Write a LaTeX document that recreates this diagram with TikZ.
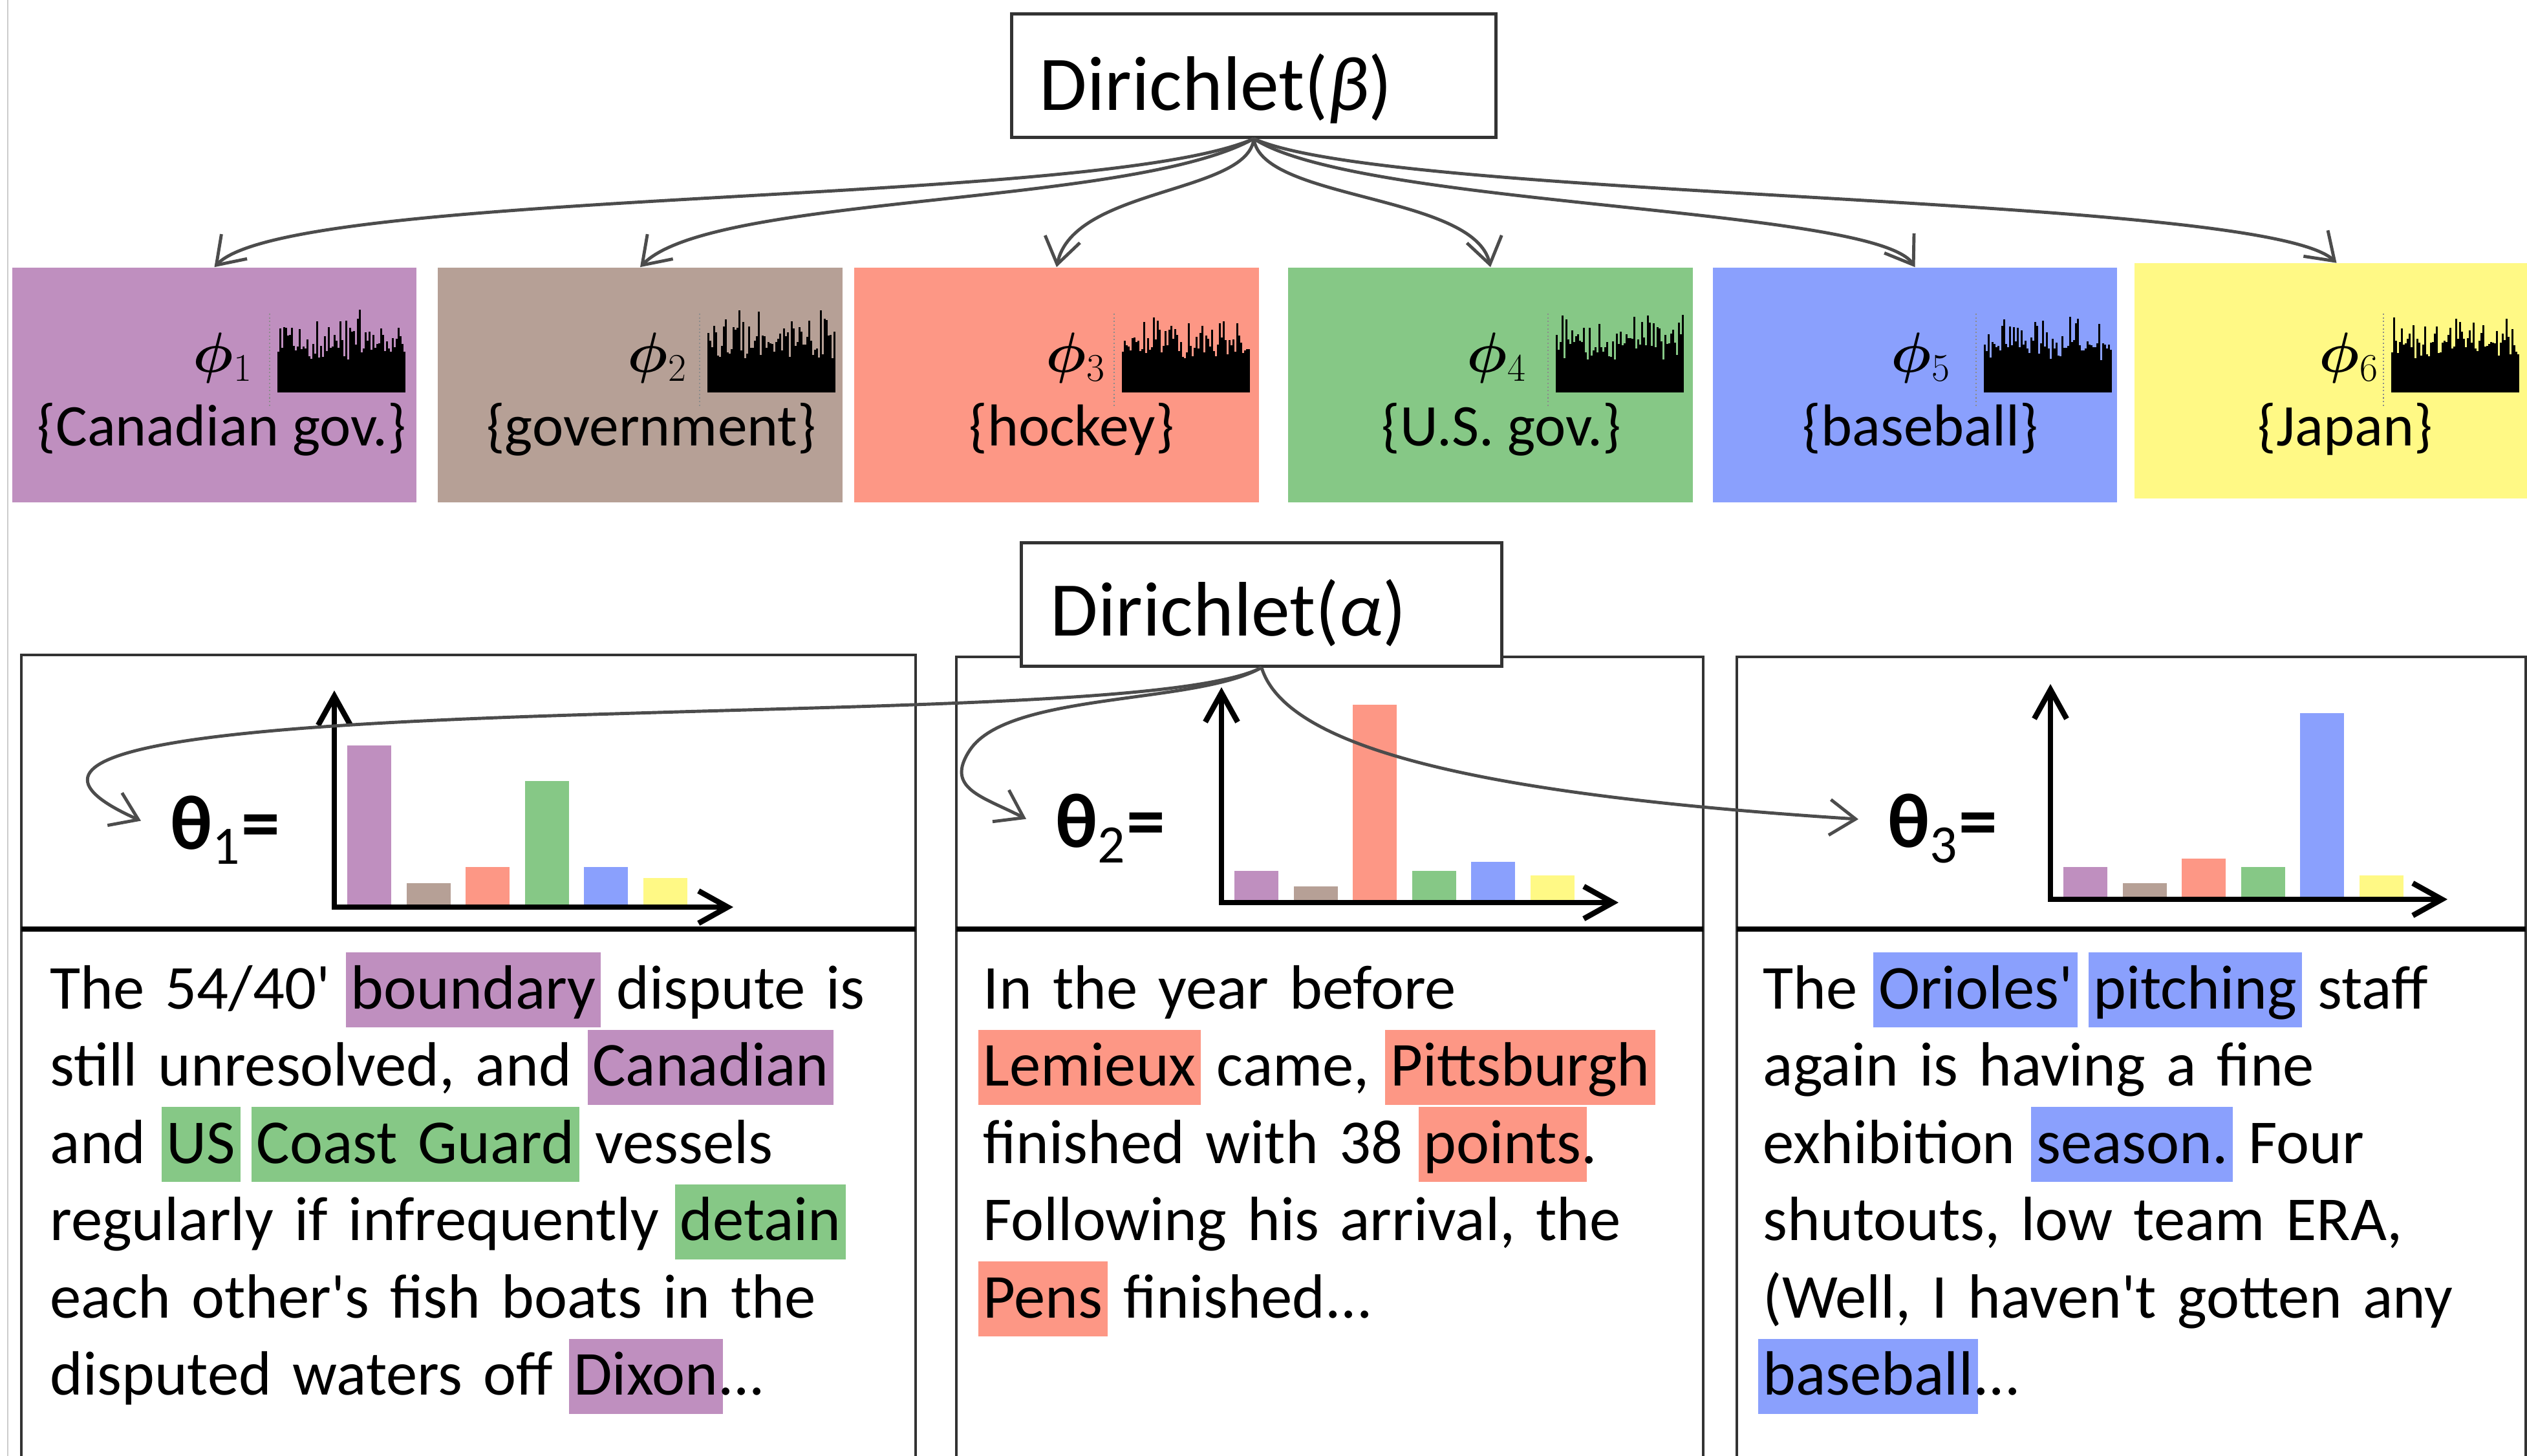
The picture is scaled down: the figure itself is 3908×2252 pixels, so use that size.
\documentclass[tikz,border=0pt]{standalone}
\usepackage{fontspec}
\setmainfont{Carlito}
\usepackage{bm}
\usetikzlibrary{arrows.meta,positioning}

\definecolor{tpurple}{RGB}{191,143,191}
\definecolor{tbrown}{RGB}{182,160,150}
\definecolor{tsalmon}{RGB}{253,151,133}
\definecolor{tgreen}{RGB}{134,200,134}
\definecolor{tblue}{RGB}{138,160,253}
\definecolor{tyellow}{RGB}{255,249,133}

% highlighted word, width neutral
\newcommand{\hlw}[2]{\hspace{-0.08em}{\setlength{\fboxsep}{0pt}\colorbox{#1}{\rule[-0.3em]{0pt}{1.2em}\hspace{0.08em}#2\hspace{0.08em}}}\hspace{-0.08em}}
\newcommand{\sq}{\textquotesingle}

\tikzset{
  dirbox/.style={draw=black!80, line width=1.4pt, fill=white, minimum height=1.9cm},
  dirtext/.style={anchor=base west, inner sep=0pt, font=\fontsize{34}{40}\selectfont},
  topic/.style={minimum width=6.25cm, minimum height=3.63cm, inner sep=0pt},
  philbl/.style={anchor=base west, inner sep=0pt, font=\fontsize{27}{30}\selectfont},
  toplbl/.style={anchor=base, inner sep=0pt, font=\fontsize{26}{30}\selectfont},
  thlbl/.style={anchor=base west, inner xsep=0.45cm, inner ysep=0pt, font=\fontsize{34}{40}\selectfont\bfseries},
  doctext/.style={anchor=base west, inner sep=0pt, text width=13.2cm, align=left, font=\fontsize{27.5}{34}\selectfont},
  docbox/.style={draw=black!80, line width=1.4pt},
  divider/.style={line width=2.2pt},
  flow/.style={draw=black!70, line width=1.4pt, -{Straight Barb[length=4mm,width=5.5mm]}},
  axes/.style={line width=2.4pt, {Straight Barb[length=4.5mm,width=5mm]}-{Straight Barb[length=4.5mm,width=5mm]}},
}

\begin{document}
\begin{tikzpicture}[x=0.01cm, y=-0.01cm]
\useasboundingbox (0,0) rectangle (3908,2252);
\draw[black!20, line width=0.8pt] (12,0) -- (12,2252);

% topics
\node[dirbox, minimum width=7.48cm] (dirb) at (1939,117) {};
\node[dirtext] (dirbt) at (1607,171) {Dirichlet(\textit{β})};
\node[topic, fill=tpurple] (t1) at (331.5,595.5) {};
\node[topic, fill=tbrown] (t2) at (990,595.5) {};
\node[topic, fill=tsalmon] (t3) at (1634,595.5) {};
\node[topic, fill=tgreen] (t4) at (2305,595.5) {};
\node[topic, fill=tblue] (t5) at (2961.5,595.5) {};
\node[topic, fill=tyellow] (t6) at (3613.5,589) {};

\node[philbl] (p1) at (298,576) {$\bm{\phi}_1$};
\node[philbl] (p2) at (970,576) {$\bm{\phi}_2$};
\node[philbl] (p3) at (1617,576) {$\bm{\phi}_3$};
\node[philbl] (p4) at (2268,576) {$\bm{\phi}_4$};
\node[philbl] (p5) at (2924,576) {$\bm{\phi}_5$};
\node[philbl] (p6) at (3586,576) {$\bm{\phi}_6$};

\node[toplbl] (l1) at (343,690) {\{Canadian gov.\}};
\node[toplbl] (l2) at (1007,690) {\{government\}};
\node[toplbl] (l3) at (1657,690) {\{hockey\}};
\node[toplbl] (l4) at (2322,690) {\{U.S. gov.\}};
\node[toplbl] (l5) at (2970,690) {\{baseball\}};
\node[toplbl] (l6) at (3627,690) {\{Japan\}};

% word histograms
\pgfmathsetseed{42}
\foreach \hx in {429,1094,1735,2406,3068,3698} {
  \draw[black!45, densely dotted, line width=0.6pt] (\hx-12,485) -- (\hx-12,628);
  \foreach \k in {0,...,65} {
    \pgfmathsetmacro\hh{50+30*rnd+50*rnd^2}
    \fill (\hx+\k*3,607) rectangle ++(3.3,-\hh);
  }
}

\draw[flow] (dirb.south) .. controls (1700,320) and (450,290) .. (t1.north);
\draw[flow] (dirb.south) .. controls (1750,320) and (1100,300) .. (t2.north);
\draw[flow] (dirb.south) .. controls (1930,300) and (1660,290) .. (t3.north);
\draw[flow] (dirb.south) .. controls (1950,310) and (2280,300) .. (t4.north);
\draw[flow] (dirb.south) .. controls (2100,320) and (2900,320) .. (t5.north);
\draw[flow] (dirb.south) .. controls (2150,310) and (3500,300) .. (t6.north);

% documents
\draw[docbox] (33,2262) -- (33,1013) -- (1416,1013) -- (1416,2262);
\draw[docbox] (1479,2262) -- (1479,1016) -- (2634,1016) -- (2634,2262);
\draw[docbox] (2686,2262) -- (2686,1016) -- (3906,1016) -- (3906,2262);
\draw[divider] (33,1437) -- (1416,1437);
\draw[divider] (1479,1437) -- (2634,1437);
\draw[divider] (2686,1437) -- (3906,1437);

\begin{scope}[shift={(517,1403)}]
  \foreach \c/\h [count=\i] in {tpurple/250,tbrown/37,tsalmon/62,tgreen/195,tblue/62,tyellow/45}
    \fill[\c] ({20+(\i-1)*91.6},0) rectangle ++(68,-\h);
  \draw[axes] (0,-335) -- (0,0) -- (617,0);
\end{scope}
\begin{scope}[shift={(1889,1396)}]
  \foreach \c/\h [count=\i] in {tpurple/49,tbrown/25,tsalmon/306,tgreen/49,tblue/63,tyellow/42}
    \fill[\c] ({20+(\i-1)*91.6},0) rectangle ++(68,-\h);
  \draw[axes] (0,-333) -- (0,0) -- (614,0);
\end{scope}
\begin{scope}[shift={(3171,1391)}]
  \foreach \c/\h [count=\i] in {tpurple/50,tbrown/25,tsalmon/63,tgreen/50,tblue/288,tyellow/37}
    \fill[\c] ({20+(\i-1)*91.6},0) rectangle ++(68,-\h);
  \draw[axes] (0,-333) -- (0,0) -- (614,0);
\end{scope}

\node[thlbl] (th1) at (218,1313) {θ\textsubscript{\mdseries 1}=};
\node[thlbl] (th2) at (1587,1310) {θ\textsubscript{\mdseries 2}=};
\node[thlbl] (th3) at (2874,1310) {θ\textsubscript{\mdseries 3}=};

\node[doctext] (d1) at (77,1560) {The 54/40\sq{} \hlw{tpurple}{boundary} dispute is\\
still unresolved, and \hlw{tpurple}{Canadian}\\
and \hlw{tgreen}{US} \hlw{tgreen}{Coast Guard} vessels\\
regularly if infrequently \hlw{tgreen}{detain}\\
each other\sq{}s fish boats in the\\
disputed waters off \hlw{tpurple}{Dixon}...};
\node[doctext] (d2) at (1520,1560) {In the year before\\
\hlw{tsalmon}{Lemieux} came, \hlw{tsalmon}{Pittsburgh}\\
finished with 38 \hlw{tsalmon}{points}.\\
Following his arrival, the\\
\hlw{tsalmon}{Pens} finished...};
\node[doctext] (d3) at (2726,1560) {The \hlw{tblue}{Orioles\sq} \hlw{tblue}{pitching} staff\\
again is having a fine\\
exhibition \hlw{tblue}{season.} Four\\
shutouts, low team ERA,\\
(Well, I haven\sq{}t gotten any\\
\hlw{tblue}{baseball}...};

\node[dirbox, minimum width=7.43cm] (dira) at (1951,935) {};
\node[dirtext] (dirat) at (1624,983) {Dirichlet(\textit{α})};

\draw[flow] (dira.south) .. controls (1850,1085) and (1400,1090) .. (950,1104)
  .. controls (400,1120) and (-50,1150) .. ([yshift=1.4mm]th1.west);
\draw[flow] (dira.south) .. controls (1850,1090) and (1560,1070) .. (1500,1160)
  .. controls (1460,1220) and (1520,1232) .. ([yshift=1.4mm]th2.west);
\draw[flow] (dira.south) .. controls (1990,1160) and (2300,1230) .. ([yshift=1.4mm]th3.west);
\end{tikzpicture}
\end{document}
